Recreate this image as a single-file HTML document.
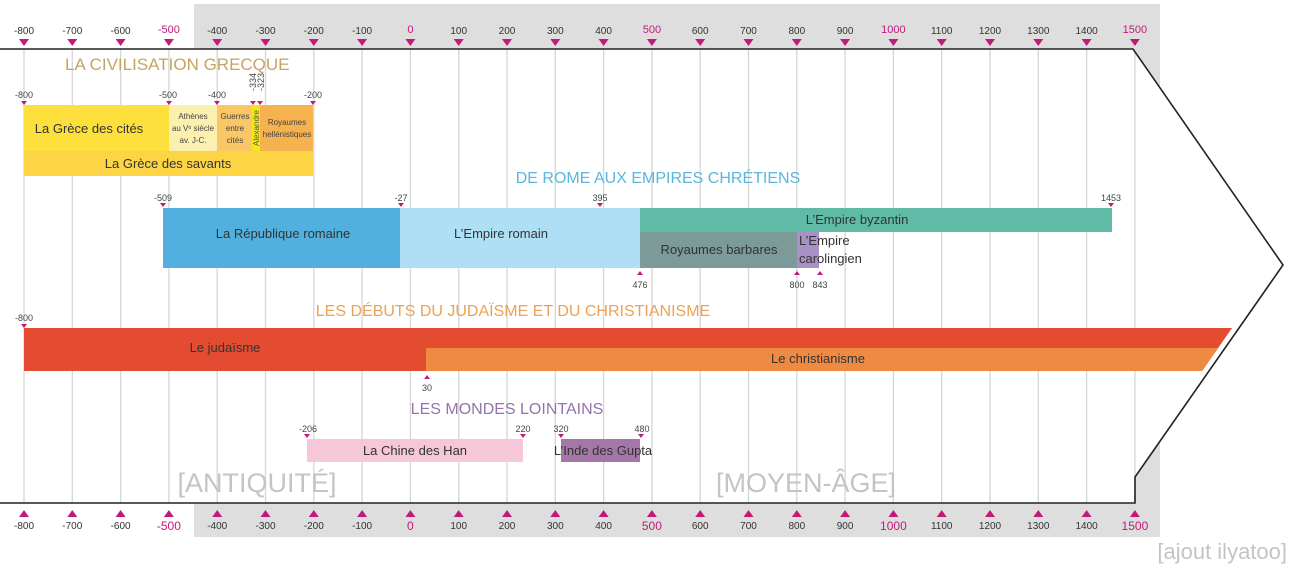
<!DOCTYPE html>
<html><head><meta charset="utf-8"><style>
html,body{margin:0;padding:0;background:#fff;}
svg{display:block;font-family:"Liberation Sans",Arial,sans-serif;}
</style></head><body>
<svg width="1290" height="570" viewBox="0 0 1290 570" xmlns="http://www.w3.org/2000/svg">
<defs>
<clipPath id="ac"><polygon points="0,49 1127,49 1276,265 1131,473 0,473"/></clipPath>
</defs>
<rect x="194" y="4" width="966" height="533" fill="#dedede"/>
<polygon points="0,49 1133,49 1283,265 1135,477 1135,503 0,503" fill="#fff"/>
<g stroke="#d6d6d6" stroke-width="1.3">
<line x1="24" y1="49" x2="24" y2="503"/><line x1="72.3" y1="49" x2="72.3" y2="503"/><line x1="120.6" y1="49" x2="120.6" y2="503"/><line x1="168.9" y1="49" x2="168.9" y2="503"/><line x1="217.2" y1="49" x2="217.2" y2="503"/><line x1="265.5" y1="49" x2="265.5" y2="503"/><line x1="313.8" y1="49" x2="313.8" y2="503"/><line x1="362.1" y1="49" x2="362.1" y2="503"/><line x1="410.4" y1="49" x2="410.4" y2="503"/><line x1="458.7" y1="49" x2="458.7" y2="503"/><line x1="507" y1="49" x2="507" y2="503"/><line x1="555.3" y1="49" x2="555.3" y2="503"/><line x1="603.6" y1="49" x2="603.6" y2="503"/><line x1="651.9" y1="49" x2="651.9" y2="503"/><line x1="700.2" y1="49" x2="700.2" y2="503"/><line x1="748.5" y1="49" x2="748.5" y2="503"/><line x1="796.8" y1="49" x2="796.8" y2="503"/><line x1="845.1" y1="49" x2="845.1" y2="503"/><line x1="893.4" y1="49" x2="893.4" y2="503"/><line x1="941.7" y1="49" x2="941.7" y2="503"/><line x1="990" y1="49" x2="990" y2="503"/><line x1="1038.3" y1="49" x2="1038.3" y2="503"/><line x1="1086.6" y1="49" x2="1086.6" y2="503"/><line x1="1134.9" y1="49" x2="1134.9" y2="503"/>
</g>
<polyline points="0,49 1133,49 1283,265 1135,477 1135,503 0,503" fill="none" stroke="#222" stroke-width="1.6"/>

<!-- Greek -->
<text x="65" y="70" font-size="17" fill="#c9a263">LA CIVILISATION GRECQUE</text>
<rect x="24" y="105" width="145" height="46" fill="#fde03c"/>
<rect x="169" y="105" width="48" height="46" fill="#fbf0b0"/>
<rect x="217" y="105" width="35" height="46" fill="#f9c766"/>
<rect x="252" y="105" width="8" height="46" fill="#f4e812"/>
<rect x="260" y="105" width="53" height="46" fill="#f5b24e"/>
<rect x="24" y="151" width="289" height="25" fill="#fdd443"/>
<text x="89" y="133" font-size="13" fill="#333" text-anchor="middle">La Grèce des cités</text>
<g font-size="8" fill="#444" text-anchor="middle"><text x="193" y="119">Athènes</text><text x="193" y="131">au Vᵉ siècle</text><text x="193" y="143">av. J-C.</text>
<text x="235" y="119">Guerres</text><text x="235" y="131">entre</text><text x="235" y="143">cités</text>
<text x="287" y="125">Royaumes</text><text x="287" y="137">hellénistiques</text></g>
<text transform="translate(259,128) rotate(-90)" font-size="8" fill="#555" text-anchor="middle">Alexandre</text>
<text x="168" y="168" font-size="13" fill="#333" text-anchor="middle">La Grèce des savants</text>
<g font-size="9" fill="#444" text-anchor="middle"><text x="24" y="98">-800</text><text x="168" y="98">-500</text><text x="217" y="98">-400</text><text x="313" y="98">-200</text></g>
<text transform="translate(256,91) rotate(-90)" font-size="9" fill="#444">-334</text>
<text transform="translate(264,91) rotate(-90)" font-size="9" fill="#444">-323</text>
<g fill="#c4197a"><polygon points="21,101 27,101 24,105"/><polygon points="166,101 172,101 169,105"/><polygon points="214,101 220,101 217,105"/><polygon points="250,101 256,101 253,105"/><polygon points="257,101 263,101 260,105"/><polygon points="310,101 316,101 313,105"/></g>

<!-- Rome -->
<text x="658" y="183" font-size="16" fill="#5ab6dc" text-anchor="middle">DE ROME AUX EMPIRES CHRÉTIENS</text>
<rect x="163" y="208" width="237" height="60" fill="#52b0de"/>
<rect x="400" y="208" width="240" height="60" fill="#aedff4"/>
<rect x="640" y="208" width="472" height="24" fill="#5fbba6"/>
<rect x="640" y="232" width="157" height="36" fill="#7b9a98"/>
<rect x="797" y="232" width="22" height="36" fill="#a990c5"/>
<text x="283" y="238" font-size="13" fill="#333" text-anchor="middle">La République romaine</text>
<text x="501" y="238" font-size="13" fill="#333" text-anchor="middle">L’Empire romain</text>
<text x="857" y="224" font-size="13" fill="#333" text-anchor="middle">L’Empire byzantin</text>
<text x="719" y="254" font-size="13" fill="#333" text-anchor="middle">Royaumes barbares</text>
<text x="799" y="245" font-size="13" fill="#333">L’Empire</text>
<text x="799" y="263" font-size="13" fill="#333">carolingien</text>
<g font-size="9" fill="#444" text-anchor="middle"><text x="163" y="201">-509</text><text x="401" y="201">-27</text><text x="600" y="201">395</text><text x="1111" y="201">1453</text>
<text x="640" y="288">476</text><text x="797" y="288">800</text><text x="820" y="288">843</text></g>
<g fill="#c4197a"><polygon points="160,203 166,203 163,207"/><polygon points="398,203 404,203 401,207"/><polygon points="597,203 603,203 600,207"/><polygon points="1108,203 1114,203 1111,207"/>
<polygon points="637,275 643,275 640,271"/><polygon points="794,275 800,275 797,271"/><polygon points="817,275 823,275 820,271"/></g>

<!-- Judaism -->
<text x="513" y="316" font-size="16" fill="#efa052" text-anchor="middle">LES DÉBUTS DU JUDAÏSME ET DU CHRISTIANISME</text>
<g clip-path="url(#ac)">
<rect x="24" y="328" width="1300" height="43" fill="#e34c31"/>
<rect x="426" y="348" width="900" height="23" fill="#ef8a42"/>
</g>
<text x="225" y="352" font-size="13" fill="#333" text-anchor="middle">Le judaïsme</text>
<text x="818" y="363" font-size="13" fill="#333" text-anchor="middle">Le christianisme</text>
<text x="24" y="321" font-size="9" fill="#444" text-anchor="middle">-800</text>
<polygon points="21,324 27,324 24,328" fill="#c4197a"/>
<polygon points="424,379 430,379 427,375" fill="#c4197a"/>
<text x="427" y="391" font-size="9" fill="#444" text-anchor="middle">30</text>

<!-- Far worlds -->
<text x="507" y="414" font-size="16" fill="#9474ab" text-anchor="middle">LES MONDES LOINTAINS</text>
<rect x="307" y="439" width="216" height="23" fill="#f5c7d8"/>
<rect x="561" y="439" width="79" height="23" fill="#a577a9"/>
<text x="415" y="455" font-size="13" fill="#333" text-anchor="middle">La Chine des Han</text>
<text x="603" y="455" font-size="13" fill="#333" text-anchor="middle">L’Inde des Gupta</text>
<g font-size="9" fill="#444" text-anchor="middle"><text x="308" y="432">-206</text><text x="523" y="432">220</text><text x="561" y="432">320</text><text x="642" y="432">480</text></g>
<g fill="#c4197a"><polygon points="304,434 310,434 307,438"/><polygon points="520,434 526,434 523,438"/><polygon points="558,434 564,434 561,438"/><polygon points="638,434 644,434 641,438"/></g>

<text x="257" y="492" font-size="27" fill="#c4c4c4" text-anchor="middle">[ANTIQUITÉ]</text>
<text x="806" y="492" font-size="27" fill="#c4c4c4" text-anchor="middle">[MOYEN-ÂGE]</text>
<text x="1287" y="559" font-size="22" fill="#c4c4c4" text-anchor="end">[ajout ilyatoo]</text>

<!-- axes -->
<g font-size="10" fill="#333" text-anchor="middle" id="top">
<text x="24" y="34">-800</text><text x="72.3" y="34">-700</text><text x="120.6" y="34">-600</text><text x="168.9" y="33" fill="#c4197a" font-size="11">-500</text><text x="217.2" y="34">-400</text><text x="265.5" y="34">-300</text><text x="313.8" y="34">-200</text><text x="362.1" y="34">-100</text><text x="410.4" y="33" fill="#c4197a" font-size="11">0</text><text x="458.7" y="34">100</text><text x="507" y="34">200</text><text x="555.3" y="34">300</text><text x="603.6" y="34">400</text><text x="651.9" y="33" fill="#c4197a" font-size="11">500</text><text x="700.2" y="34">600</text><text x="748.5" y="34">700</text><text x="796.8" y="34">800</text><text x="845.1" y="34">900</text><text x="893.4" y="33" fill="#c4197a" font-size="11">1000</text><text x="941.7" y="34">1100</text><text x="990" y="34">1200</text><text x="1038.3" y="34">1300</text><text x="1086.6" y="34">1400</text><text x="1134.9" y="33" fill="#c4197a" font-size="11">1500</text>
</g>
<g font-size="10" fill="#333" text-anchor="middle">
<text x="24" y="529">-800</text><text x="72.3" y="529">-700</text><text x="120.6" y="529">-600</text><text x="168.9" y="530" fill="#c4197a" font-size="12">-500</text><text x="217.2" y="529">-400</text><text x="265.5" y="529">-300</text><text x="313.8" y="529">-200</text><text x="362.1" y="529">-100</text><text x="410.4" y="530" fill="#c4197a" font-size="12">0</text><text x="458.7" y="529">100</text><text x="507" y="529">200</text><text x="555.3" y="529">300</text><text x="603.6" y="529">400</text><text x="651.9" y="530" fill="#c4197a" font-size="12">500</text><text x="700.2" y="529">600</text><text x="748.5" y="529">700</text><text x="796.8" y="529">800</text><text x="845.1" y="529">900</text><text x="893.4" y="530" fill="#c4197a" font-size="12">1000</text><text x="941.7" y="529">1100</text><text x="990" y="529">1200</text><text x="1038.3" y="529">1300</text><text x="1086.6" y="529">1400</text><text x="1134.9" y="530" fill="#c4197a" font-size="12">1500</text>
</g>
<g fill="#c4197a">
<polygon points="19,39 29,39 24,46"/><polygon points="67.3,39 77.3,39 72.3,46"/><polygon points="115.6,39 125.6,39 120.6,46"/><polygon points="163.9,39 173.9,39 168.9,46"/><polygon points="212.2,39 222.2,39 217.2,46"/><polygon points="260.5,39 270.5,39 265.5,46"/><polygon points="308.8,39 318.8,39 313.8,46"/><polygon points="357.1,39 367.1,39 362.1,46"/><polygon points="405.4,39 415.4,39 410.4,46"/><polygon points="453.7,39 463.7,39 458.7,46"/><polygon points="502,39 512,39 507,46"/><polygon points="550.3,39 560.3,39 555.3,46"/><polygon points="598.6,39 608.6,39 603.6,46"/><polygon points="646.9,39 656.9,39 651.9,46"/><polygon points="695.2,39 705.2,39 700.2,46"/><polygon points="743.5,39 753.5,39 748.5,46"/><polygon points="791.8,39 801.8,39 796.8,46"/><polygon points="840.1,39 850.1,39 845.1,46"/><polygon points="888.4,39 898.4,39 893.4,46"/><polygon points="936.7,39 946.7,39 941.7,46"/><polygon points="985,39 995,39 990,46"/><polygon points="1033.3,39 1043.3,39 1038.3,46"/><polygon points="1081.6,39 1091.6,39 1086.6,46"/><polygon points="1129.9,39 1139.9,39 1134.9,46"/>
<polygon points="19,517 29,517 24,510"/><polygon points="67.3,517 77.3,517 72.3,510"/><polygon points="115.6,517 125.6,517 120.6,510"/><polygon points="163.9,517 173.9,517 168.9,510"/><polygon points="212.2,517 222.2,517 217.2,510"/><polygon points="260.5,517 270.5,517 265.5,510"/><polygon points="308.8,517 318.8,517 313.8,510"/><polygon points="357.1,517 367.1,517 362.1,510"/><polygon points="405.4,517 415.4,517 410.4,510"/><polygon points="453.7,517 463.7,517 458.7,510"/><polygon points="502,517 512,517 507,510"/><polygon points="550.3,517 560.3,517 555.3,510"/><polygon points="598.6,517 608.6,517 603.6,510"/><polygon points="646.9,517 656.9,517 651.9,510"/><polygon points="695.2,517 705.2,517 700.2,510"/><polygon points="743.5,517 753.5,517 748.5,510"/><polygon points="791.8,517 801.8,517 796.8,510"/><polygon points="840.1,517 850.1,517 845.1,510"/><polygon points="888.4,517 898.4,517 893.4,510"/><polygon points="936.7,517 946.7,517 941.7,510"/><polygon points="985,517 995,517 990,510"/><polygon points="1033.3,517 1043.3,517 1038.3,510"/><polygon points="1081.6,517 1091.6,517 1086.6,510"/><polygon points="1129.9,517 1139.9,517 1134.9,510"/>
</g>
</svg>
</body></html>
